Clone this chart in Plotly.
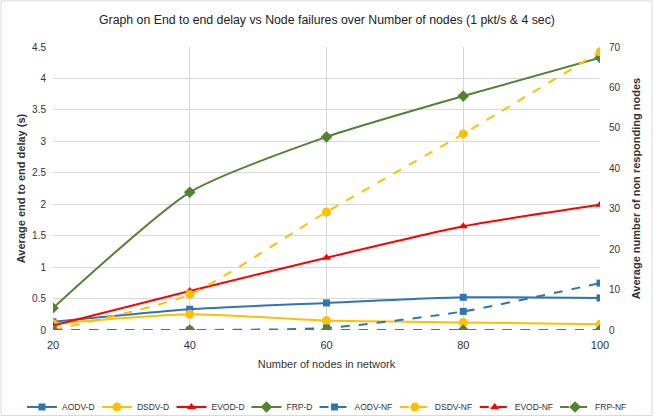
import plotly.graph_objects as go

nodes = [20, 40, 60, 80, 100]

aodv_d = [0.13, 0.33, 0.43, 0.52, 0.51]
dsdv_d = [0.10, 0.25, 0.15, 0.12, 0.09]
evod_d = [0.07, 0.62, 1.15, 1.65, 1.99]
frp_d = [0.35, 2.19, 3.07, 3.72, 4.33]

aodv_nf = [0, 0, 0.5, 4.6, 11.6]
dsdv_nf = [0, 8.8, 29.2, 48.5, 68.8]
evod_nf = [0, 0, 0, 0, 0]
frp_nf = [0, 0, 0, 0, 0]

BLUE = "#2E75B6"
YELLOW = "#FFC000"
RED = "#FF0000"
GREEN = "#548235"

FONT = "Liberation Sans Narrow, Arial Narrow, Liberation Sans, Arial, sans-serif"

fig = go.Figure()

series = [
    ("AODV-D", aodv_d, BLUE, "square", "solid", "y", 7),
    ("DSDV-D", dsdv_d, YELLOW, "circle", "solid", "y", 9),
    ("EVOD-D", evod_d, RED, "triangle-up", "solid", "y", 8),
    ("FRP-D", frp_d, GREEN, "diamond", "solid", "y", 9),
    ("AODV-NF", aodv_nf, BLUE, "square", "dash", "y2", 7),
    ("DSDV-NF", dsdv_nf, YELLOW, "circle", "dash", "y2", 9),
    ("EVOD-NF", evod_nf, RED, "triangle-up", "dash", "y2", 8),
    ("FRP-NF", frp_nf, GREEN, "diamond", "dash", "y2", 9),
]
legend_x = [-0.0567, 0.0803, 0.2166, 0.3537, 0.4781, 0.6249, 0.7710, 0.9179]

legends = {}
for i, (name, vals, color, sym, dash, yax, ms) in enumerate(series):
    lname = "legend" if i == 0 else f"legend{i + 1}"
    fig.add_trace(go.Scatter(
        x=nodes, y=vals, name=name, yaxis=yax, legend=lname,
        mode="lines+markers",
        line=dict(color=color, width=2, dash=dash, shape="spline", smoothing=0.6),
        marker=dict(color=color, symbol=sym, size=ms),
    ))
    legends[lname] = dict(orientation="h", x=legend_x[i], xanchor="left",
                          y=-0.272, yanchor="middle",
                          font=dict(family=FONT, size=8.5, color="#333333"),
                          itemwidth=30, bgcolor="rgba(0,0,0,0)", borderwidth=0)

fig.update_layout(
    width=654, height=419,
    margin=dict(l=53, r=54, t=47, b=89, autoexpand=False),
    paper_bgcolor="white", plot_bgcolor="white",
    showlegend=True,
    hovermode=False,
    title=dict(text="Graph on End to end delay vs Node failures over Number of nodes (1 pkt/s & 4 sec)",
               x=0.5, xanchor="center", y=0.952, yanchor="middle",
               font=dict(family=FONT, size=12.3, color="#222222")),
    font=dict(family=FONT, size=11, color="#333333"),
    xaxis=dict(range=[20, 100], tickvals=nodes, showgrid=True, gridcolor="#d9d9d9",
               zeroline=False, showline=False,
               ticks="outside", ticklen=5, tickcolor="rgba(0,0,0,0)",
               tickfont=dict(family=FONT, size=11, color="#333333"),
               title=dict(text="Number of nodes in network",
                          font=dict(family=FONT, size=11, color="#333333"), standoff=10)),
    yaxis=dict(range=[0, 4.5], dtick=0.5, showgrid=True, gridcolor="#d9d9d9",
               zeroline=False, showline=False,
               ticks="outside", ticklen=4, tickcolor="rgba(0,0,0,0)",
               tickfont=dict(family=FONT, size=10, color="#333333"),
               title=dict(text="<b>Average end to end delay (s)</b>",
                          font=dict(family=FONT, size=11, color="#333333"), standoff=4)),
    yaxis2=dict(range=[0, 70], dtick=10, overlaying="y", side="right", showgrid=False,
                zeroline=False, showline=False,
                ticks="outside", ticklen=6, tickcolor="rgba(0,0,0,0)",
                tickfont=dict(family=FONT, size=10, color="#333333"),
                title=dict(text="<b>Average number of non responding nodes</b>",
                           font=dict(family=FONT, size=11, color="#333333"), standoff=12)),
    shapes=[dict(type="rect", xref="paper", yref="paper", x0=-0.095, x1=1.095, y0=-0.302, y1=1.163,
                 line=dict(color="#d9d9d9", width=1))],
    **legends,
)

fig.write_html(
    "out.html",
    config={"displayModeBar": False},
    post_script="document.body.style.margin='0';document.body.style.padding='0';",
)
